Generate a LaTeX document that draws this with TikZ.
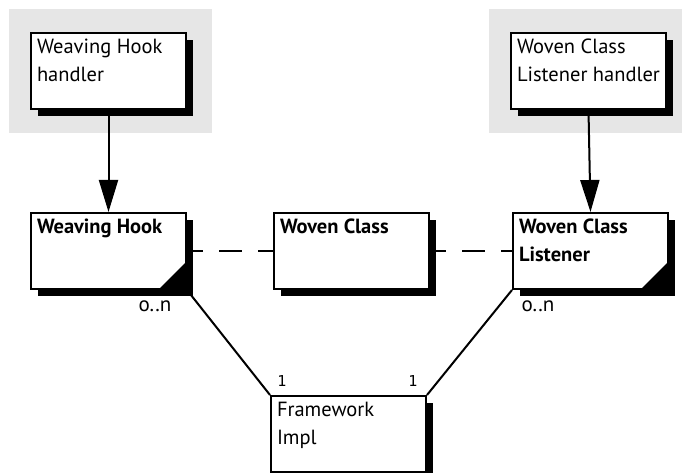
\documentclass[tikz,border=0pt]{standalone}
\usepackage{fontspec}
\setmainfont{PT Sans}
\setmonofont{DejaVu Sans Mono}
\definecolor{bggray}{RGB}{230,230,230}
\usetikzlibrary{arrows.meta,positioning,shadows}

\newcommand{\boxtext}[1]{\parbox[t][64pt][t]{143pt}{\raggedright #1}}

\tikzset{
  classbox/.style={draw, line width=2pt, fill=white, anchor=north west,
    minimum width=155pt, minimum height=76pt, inner sep=6pt,
    font=\fontsize{20.5}{28}\selectfont,
    drop shadow={shadow xshift=7pt, shadow yshift=-7pt, opacity=1, fill=black}},
  mult/.style={font=\fontsize{21}{24}\selectfont},
  one/.style={font=\ttfamily\fontsize{15}{17}\selectfont},
  link/.style={line width=2pt},
  assoc/.style={line width=2pt, dash pattern=on 23pt off 16pt, dash phase=7pt},
}

\begin{document}
\begin{tikzpicture}[x=1pt, y=-1pt]
  \useasboundingbox (0,0) rectangle (682,473);

  % Grey handler panels
  \fill[bggray] (9,9) rectangle (212,133);
  \fill[bggray] (489,9) rectangle (682,133);

  % Handlers
  \node[classbox] (hookhandler) at (30,32) {\boxtext{Weaving Hook\\handler}};
  \node[classbox] (listenerhandler) at (510,32) {\boxtext{Woven Class\\\mbox{Listener handler}}};

  % Services
  \node[classbox] (hook) at (30,212) {\boxtext{\bfseries Weaving Hook}};
  \node[classbox] (woven) at (273,212) {\boxtext{\bfseries Woven Class}};
  \node[classbox] (listener) at (512,212) {\boxtext{\bfseries Woven Class\\Listener}};

  % Framework
  \node[classbox] (framework) at (270,395) {\boxtext{Framework\\Impl}};

  % Folded corners
  \fill (hook.south east) -- ++(0,-29) -- ++(-29,29) -- cycle;
  \fill (listener.south east) -- ++(0,-29) -- ++(-29,29) -- cycle;

  % Handler arrows
  \draw[link, -{Triangle[length=32pt, width=19pt]}] (hookhandler.south) -- (hook.north);
  \draw[link, -{Triangle[length=32pt, width=19pt]}] (listenerhandler.south) -- (listener.north);

  % Dashed associations
  \draw[assoc] (hook.east) -- (woven.west);
  \draw[assoc] (woven.east) -- (listener.west);

  % Framework links
  \draw[link] (hook.south east) -- (framework.north west);
  \draw[link] (listener.south west) -- (framework.north east);

  % Multiplicities
  \node[mult] (hookmult) at (155,306) {o..n};
  \node[mult] (listenermult) at (538,306) {o..n};
  \node[one] (oneleft) at (282,381) {1};
  \node[one] (oneright) at (413,381) {1};
\end{tikzpicture}
\end{document}
